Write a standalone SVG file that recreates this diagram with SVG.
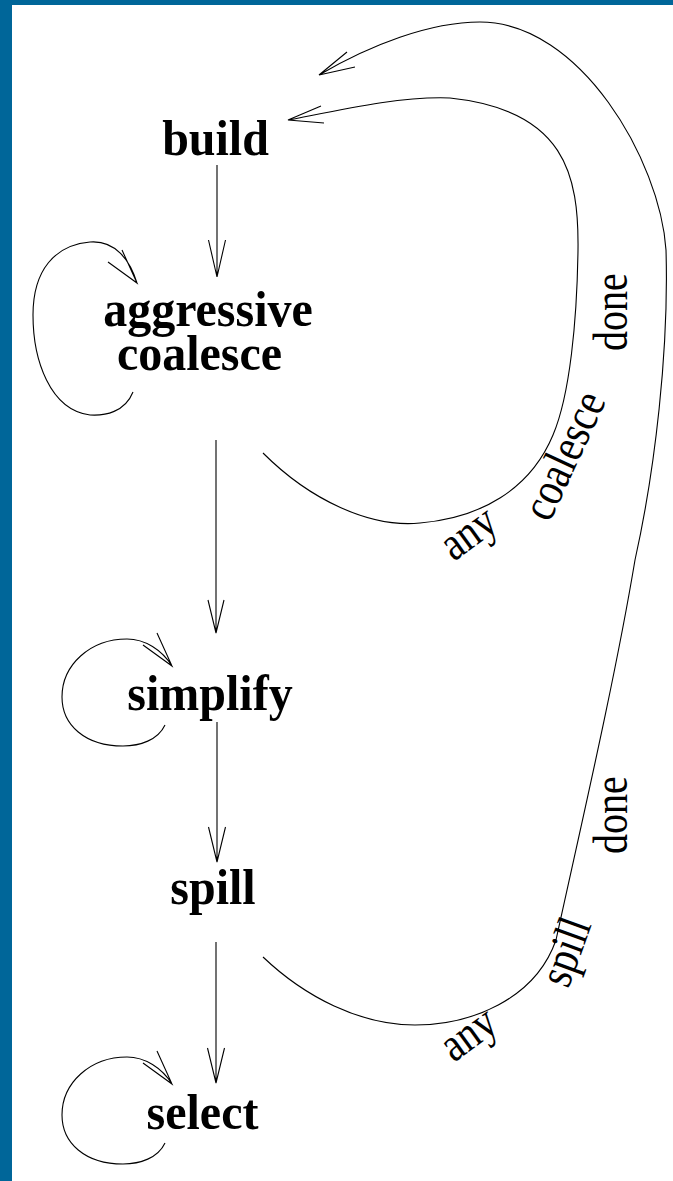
<svg xmlns="http://www.w3.org/2000/svg" width="673" height="1181" viewBox="0 0 673 1181">
<style>
.node{font-family:"Liberation Serif","Times New Roman",serif;font-weight:bold;font-size:48px;fill:#000;text-anchor:middle}
.lbl{font-family:"Liberation Serif","Times New Roman",serif;font-size:40px;fill:#000}
.c{fill:none;stroke:#000;stroke-width:1.1}
</style>
<rect x="0" y="0" width="673" height="1181" fill="#fff"/>
<rect x="0" y="0" width="673" height="5" fill="#006699"/>
<rect x="0" y="0" width="12" height="1181" fill="#006699"/>

<g id="connectors">
  <!-- build -> aggressive coalesce -->
  <path class="c" d="M217,165 L217,277 M208.5,240 L217,277 L225.5,240"/>
  <!-- aggressive coalesce -> simplify -->
  <path class="c" d="M216,440 L216,633 M208,600 L216,633 L224,600"/>
  <!-- simplify -> spill -->
  <path class="c" d="M217,722 L217,862 M208.5,827 L217,862 L225.5,827"/>
  <!-- spill -> select -->
  <path class="c" d="M216,942 L216,1083 M207.5,1048 L216,1083 L224.5,1048"/>
  <!-- self loop aggressive coalesce -->
  <path class="c" d="M133,392 C125,412 105,416 90,415 C50,410 33,360 33,315 C33,270 55,245 90,242 C115,240 130,260 137,283 M108,262 L137,283 L122,250"/>
  <!-- self loop simplify -->
  <path class="c" d="M165,725 C158,740 140,746 123,746 C85,746 62,725 62,697 C62,665 90,639 127,639 C145,639 162,650 172,666 M143,645 L172,666 L157,633"/>
  <!-- self loop select -->
  <path class="c" d="M165,1143 C158,1158 140,1164 123,1164 C85,1164 62,1143 62,1115 C62,1083 90,1057 127,1057 C145,1057 162,1068 172,1084 M143,1063 L172,1084 L157,1051"/>
  <!-- aggressive coalesce -> build (any coalesce done) -->
  <path class="c" d="M263,453 C310,500 370,528 420,523 C480,518 530,490 553,435 C570,395 577,320 578,250 C579,175 565,110 450,98 C400,96 340,110 289,120 M321,106 L288,120 L324,123"/>
  <!-- spill -> build (any spill done) -->
  <path class="c" d="M263,957 C305,997 360,1025 415,1025 C470,1025 535,1000 556,940 C580,830 615,680 635,560 C655,470 669,350 666,250 C660,160 580,22 480,22 C430,22 370,45 319,75 M347,52 L319,75 L355,67"/>
</g>

<g id="node-build"><text class="node" transform="translate(215.5,155) scale(1,1.07)">build</text></g>
<g id="node-aggressive-coalesce">
  <text class="node" transform="translate(208,326) scale(1,1.07)">aggressive</text>
  <text class="node" transform="translate(199.5,370) scale(1,1.07)">coalesce</text>
</g>
<g id="node-simplify"><text class="node" transform="translate(210,710) scale(1,1.07)">simplify</text></g>
<g id="node-spill"><text class="node" transform="translate(213,904) scale(1,1.07)">spill</text></g>
<g id="node-select"><text class="node" transform="translate(202.5,1129) scale(1,1.07)">select</text></g>

<g id="labels">
  <text class="lbl" text-anchor="middle" transform="translate(477,545) rotate(-36) scale(1,1.2)">any</text>
  <text class="lbl" text-anchor="middle" transform="translate(578,462) rotate(-65) scale(1,1.2)">coalesce</text>
  <text class="lbl" text-anchor="start" transform="translate(627,351) rotate(-90) scale(1,1.2)">done</text>
  <text class="lbl" text-anchor="middle" transform="translate(477,1046) rotate(-36) scale(1,1.2)">any</text>
  <text class="lbl" text-anchor="middle" transform="translate(580,957) rotate(-70) scale(1,1.2)">spill</text>
  <text class="lbl" text-anchor="start" transform="translate(627,854) rotate(-90) scale(1,1.2)">done</text>
</g>
</svg>
